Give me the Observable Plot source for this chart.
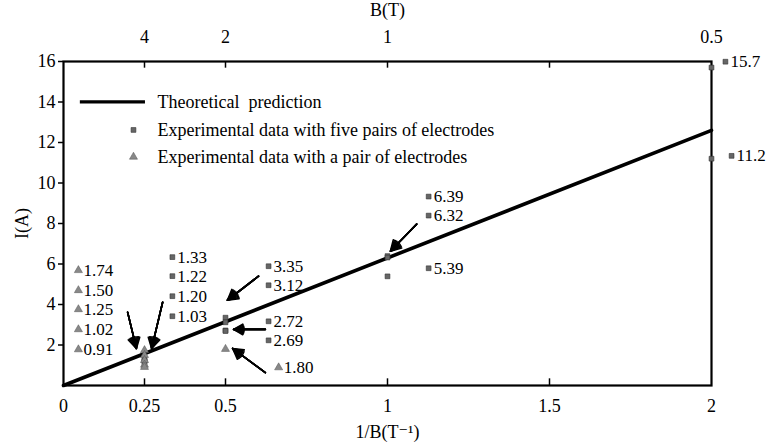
<!DOCTYPE html>
<html><head><meta charset="utf-8">
<script src="https://cdn.jsdelivr.net/npm/d3@7"></script>
<script src="https://cdn.jsdelivr.net/npm/@observablehq/plot@0.6"></script>
<style>
body{margin:0;background:#fff}
svg{display:block}
#chart svg, #chart svg text { font-family: "Liberation Serif", "Tinos", "DejaVu Serif", serif !important; }
</style>
</head><body><div id="chart"></div>
<script>
// ---- data ----
const theoryX = [0, 2];
const theoryI = [0, 12.6];

const fiveX = [0.25, 0.25, 0.25, 0.25, 0.5, 0.5, 0.5, 0.5, 1, 1, 1, 2, 2];
const fiveI = [1.33, 1.22, 1.20, 1.03, 3.35, 3.12, 2.72, 2.69, 6.39, 6.32, 5.39, 15.7, 11.2];

const pairX = [0.25, 0.25, 0.25, 0.25, 0.25, 0.5];
const pairI = [1.74, 1.50, 1.25, 1.02, 0.91, 1.80];

const xTicks = [0, 0.25, 0.5, 1, 1.5, 2];
const yTicks = [2, 4, 6, 8, 10, 12, 14, 16];
const topTicks = [0.25, 0.5, 1, 1.5, 2];
const topLabels = ["4", "2", "1", "", "0.5"];

const legendLabels = ["Theoretical  prediction",
  "Experimental data with five pairs of electrodes",
  "Experimental data with a pair of electrodes"];

// annotation value labels (placed in data units)
const annText = ["1.74","1.50","1.25","1.02","0.91",
                 "1.33","1.22","1.20","1.03",
                 "3.35","3.12","2.72","2.69","1.80",
                 "6.39","6.32","5.39","15.7","11.2"];
const annKind = ["t","t","t","t","t","s","s","s","s","s","s","s","s","t","s","s","s","s","s"];
const annX = [0.046,0.046,0.046,0.046,0.046, 0.336,0.336,0.336,0.336,
              0.633,0.633,0.633,0.633,0.664, 1.127,1.127,1.127, 2.043,2.062];
const annY = [5.69,4.70,3.76,2.77,1.78, 6.34,5.40,4.41,3.42,
              5.89,4.95,3.17,2.23,0.89, 9.33,8.39,5.79, 15.99,11.34];

// arrows (tail -> head, data units)
const arrowX1 = [0.198, 0.306, 0.602, 0.623, 0.623, 1.090];
const arrowY1 = [3.61, 4.11, 5.40, 2.77, 0.64, 7.97];
const arrowX2 = [0.225, 0.272, 0.506, 0.525, 0.522, 1.009];
const arrowY2 = [1.83, 1.83, 4.21, 2.77, 1.83, 6.63];

// ---- build ----
const theory = theoryX.map((x, i) => ({x, y: theoryI[i]}));
const five = fiveX.map((x, i) => ({x, y: fiveI[i]}));
const pair = pairX.map((x, i) => ({x, y: pairI[i]}));
const ann = annText.map((t, i) => ({t, k: annKind[i], x: annX[i], y: annY[i]}));
const arrows = arrowX1.map((x1, i) => ({x1, y1: arrowY1[i], x2: arrowX2[i], y2: arrowY2[i]}));
const legend = [
  {t: legendLabels[0], y: 14.01},
  {t: legendLabels[1], y: 12.62, k: "s"},
  {t: legendLabels[2], y: 11.29, k: "t"}
];

const font = "Liberation Serif, Tinos, DejaVu Serif, serif";
const sqStyle = {symbol: "square", r: 2.7, fill: "#666", stroke: "#333", strokeWidth: 0.6};
const trStyle = {symbol: "triangle", r: 3, fill: "#888", stroke: "#555", strokeWidth: 0.5};

const arrowLayers = [6, 12, 18, 24, 30].map(a =>
  Plot.arrow(arrows, {x1: "x1", y1: "y1", x2: "x2", y2: "y2", headAngle: a * 2, headLength: 11, strokeWidth: 1.6, stroke: "black"}));

const tf = {fontFamily: font};
const plot = Plot.plot({
  width: 769, height: 443,
  marginLeft: 63, marginRight: 58, marginTop: 61, marginBottom: 58,
  style: {fontFamily: font, fontSize: "18px", background: "white", color: "black"},
  x: {domain: [0, 2], axis: null},
  y: {domain: [0, 16], axis: null},
  marks: [
    Plot.axisX(xTicks, {anchor: "bottom", tickSize: 0, tickPadding: 14, tickFormat: d => String(d), label: null, fontSize: 18, ...tf}),
    Plot.axisX(topTicks, {anchor: "top", tickSize: 0, tickPadding: 19, tickFormat: d => topLabels[topTicks.indexOf(d)], label: null, fontSize: 18, ...tf}),
    Plot.axisY(yTicks, {anchor: "left", tickSize: 5, tickPadding: 3, tickFormat: d => String(d), label: null, fontSize: 18, strokeWidth: 1.5, ...tf}),
    Plot.ruleX(xTicks.filter(d => d > 0 && d < 2), {y1: 0, y2: 0.33, strokeWidth: 1.5}),
    Plot.ruleX(topTicks.filter(d => d < 2), {y1: 16, y2: 15.67, strokeWidth: 1.5}),
    Plot.frame({strokeWidth: 2.2}),
    Plot.text(["1/B(T\u207B\u00B9)"], {frameAnchor: "bottom", dy: 47, lineAnchor: "middle", fontSize: 18, ...tf}),
    Plot.text(["I(A)"], {frameAnchor: "left", dx: -41, rotate: -90, textAnchor: "middle", lineAnchor: "middle", fontSize: 18, ...tf}),
    Plot.text(["B(T)"], {frameAnchor: "top", dy: -51, lineAnchor: "middle", fontSize: 18, ...tf}),
    Plot.line(theory, {x: "x", y: "y", strokeWidth: 3.6, stroke: "black"}),
    Plot.dot(five, {x: "x", y: "y", ...sqStyle}),
    Plot.dot(pair, {x: "x", y: "y", ...trStyle}),
    ...arrowLayers,
    Plot.dot(ann.filter(d => d.k === "s"), {x: "x", y: "y", ...sqStyle}),
    Plot.dot(ann.filter(d => d.k === "t"), {x: "x", y: "y", ...trStyle}),
    Plot.text(ann, {x: "x", y: "y", text: "t", dx: 5, textAnchor: "start", lineAnchor: "middle", fontSize: 17, ...tf}),
    Plot.ruleY([legend[0]], {y: "y", x1: 0.052, x2: 0.253, strokeWidth: 3.2}),
    Plot.dot(legend.filter(d => d.k === "s"), {x: 0.216, y: "y", ...sqStyle}),
    Plot.dot(legend.filter(d => d.k === "t"), {x: 0.216, y: "y", ...trStyle}),
    Plot.text(legend, {x: 0.29, y: "y", text: "t", textAnchor: "start", lineAnchor: "middle", fontSize: 18, ...tf})
  ]
});
document.getElementById("chart").appendChild(plot);
</script>
</body></html>
